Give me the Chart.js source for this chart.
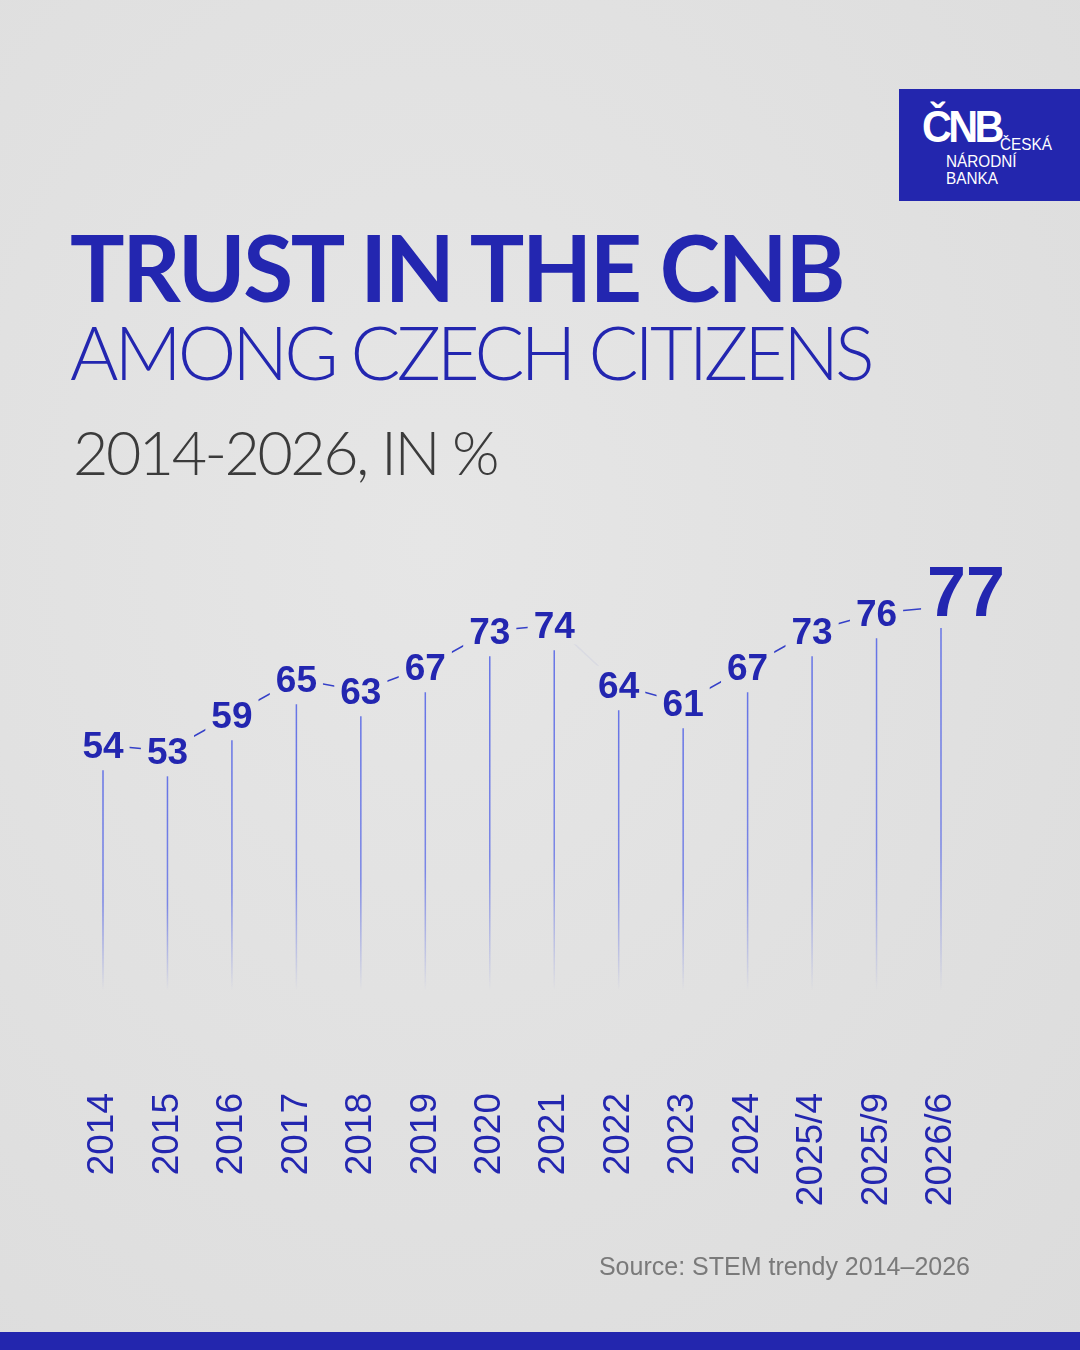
<!DOCTYPE html>
<html>
<head>
<meta charset="utf-8">
<script src="https://cdn.jsdelivr.net/npm/chart.js@4.4.1/dist/chart.umd.min.js"></script>
<style>
    html, body { margin: 0; padding: 0; }
    body {
        width: 1080px; height: 1350px; position: relative; overflow: hidden;
        background: radial-gradient(ellipse at 40% 40%, #e6e6e6 0%, #e0e0e0 60%, #dcdcdc 100%);
        font-family: Lato, "Open Sans", sans-serif;
    }
    #chart { position: absolute; left: 0; top: 0; }
    .title1 { position: absolute; left: 70px; top: 212px; font-weight: 700; font-size: 91px; color: #2326b0; letter-spacing: -2.3px; white-space: nowrap; }
    .title2 { position: absolute; left: 70px; top: 307px; font-weight: 300; font-size: 74px; color: #2326b0; letter-spacing: -4px; white-space: nowrap; }
    .subtitle { position: absolute; left: 73px; top: 415px; font-weight: 300; font-size: 61px; color: #3b3b3b; letter-spacing: -2.5px; white-space: nowrap; }
    .logo { position: absolute; left: 899px; top: 89px; width: 181px; height: 112px; background: #2326ae; color: #fff; }
    .logo .big { position: absolute; left: 23px; top: 15px; font-family: "Liberation Sans", sans-serif; font-weight: 700; font-size: 45px; letter-spacing: -4px; line-height: 1; transform: scaleX(0.92); transform-origin: left top; }
    .logo .small { position: absolute; font-family: "Liberation Sans", sans-serif; font-size: 17px; line-height: 1; transform: scaleX(0.9); transform-origin: left top; }
    .source { position: absolute; right: 110px; top: 1252px; font-family: "Liberation Sans", Arial, sans-serif; font-size: 25px; color: #7a7a7a; }
    .bar { position: absolute; left: 0; bottom: 0; width: 1080px; height: 18px; background: #2326ae; }
</style>
</head>
<body>
<canvas id="chart" width="1080" height="1350"></canvas>
<div class="logo">
    <div class="big">ČNB</div>
    <div class="small" style="left:101px; top:47px;">ČESKÁ</div>
    <div class="small" style="left:47px; top:64px;">NÁRODNÍ</div>
    <div class="small" style="left:47px; top:81px;">BANKA</div>
</div>
<div class="title1">TRUST IN THE CNB</div>
<div class="title2">AMONG CZECH CITIZENS</div>
<div class="subtitle">2014-2026, IN %</div>
<div class="source">Source: STEM trendy 2014–2026</div>
<div class="bar"></div>

<script>
// survey waves and share of people who trust the CNB
const categories = ['2014', '2015', '2016', '2017', '2018', '2019', '2020', '2021', '2022', '2023', '2024', '2025/4', '2025/9', '2026/6'];
const trust = [54, 53, 59, 65, 63, 67, 73, 74, 64, 61, 67, 73, 76, 77];

const BLUE = '#2326b0';
const LINE_BLUE = '#3540c8';
const STEM_END = 990;

// label box around each value, used for clipping the line and placing stems
function labelBox(ctx, i, pt) {
    const last = i === trust.length - 1;
    const size = last ? 70 : 37;
    ctx.save();
    ctx.font = `bold ${size}px "Liberation Sans", Arial, sans-serif`;
    const w = ctx.measureText(String(trust[i])).width;
    ctx.restore();
    const capH = size * 0.72;
    const cx = pt.x + (last ? 25 : 0);
    const baseline = last ? pt.y + 9 : pt.y + capH / 2;
    return { size, cx, baseline, left: cx - w / 2, right: cx + w / 2, top: baseline - capH, bottom: baseline };
}

const valueLabels = {
    id: 'valueLabels',
    beforeDatasetsDraw(chart) {
        // fading stems below each label
        const { ctx } = chart;
        const meta = chart.getDatasetMeta(0);
        meta.data.forEach((pt, i) => {
            const box = labelBox(ctx, i, pt);
            const y0 = box.bottom + 12;
            const g = ctx.createLinearGradient(0, y0, 0, STEM_END);
            g.addColorStop(0, 'rgba(95,110,230,0.95)');
            g.addColorStop(0.6, 'rgba(95,110,230,0.8)');
            g.addColorStop(1, 'rgba(95,110,230,0)');
            ctx.save();
            ctx.strokeStyle = g;
            ctx.lineWidth = 1.5;
            ctx.beginPath();
            ctx.moveTo(pt.x, y0);
            ctx.lineTo(pt.x, STEM_END);
            ctx.stroke();
            ctx.restore();
        });
    },
    beforeDatasetDraw(chart) {
        // keep the connecting line out of the label boxes
        const { ctx } = chart;
        const meta = chart.getDatasetMeta(0);
        ctx.save();
        ctx.beginPath();
        ctx.rect(0, 0, chart.width, chart.height);
        meta.data.forEach((pt, i) => {
            const b = labelBox(ctx, i, pt);
            ctx.rect(b.left - 6, b.top - 6, b.right - b.left + 12, b.bottom - b.top + 12);
        });
        ctx.clip('evenodd');
    },
    afterDatasetDraw(chart) {
        chart.ctx.restore();
    },
    afterDatasetsDraw(chart) {
        const { ctx } = chart;
        const meta = chart.getDatasetMeta(0);
        meta.data.forEach((pt, i) => {
            const b = labelBox(ctx, i, pt);
            ctx.save();
            ctx.font = `bold ${b.size}px "Liberation Sans", Arial, sans-serif`;
            ctx.fillStyle = BLUE;
            ctx.textAlign = 'center';
            ctx.textBaseline = 'alphabetic';
            ctx.fillText(String(trust[i]), b.cx, b.baseline);
            ctx.restore();
        });
    }
};

new Chart(document.getElementById('chart'), {
    type: 'line',
    data: {
        labels: categories,
        datasets: [{
            data: trust,
            borderColor: LINE_BLUE,
            borderWidth: 1.5,
            pointRadius: 0,
            tension: 0,
            segment: {
                borderColor: c => c.p0DataIndex === 7 ? 'rgba(53,64,200,0.06)' : LINE_BLUE
            }
        }]
    },
    options: {
        responsive: false,
        animation: false,
        layout: { padding: { left: 103, right: 139, top: 529, bottom: 0 } },
        plugins: { legend: { display: false }, tooltip: { enabled: false } },
        scales: {
            x: {
                grid: { display: false, drawTicks: false },
                border: { display: false },
                afterFit: scale => { scale.height = 281; },
                ticks: {
                    autoSkip: false,
                    minRotation: 90,
                    maxRotation: 90,
                    padding: 24,
                    color: BLUE,
                    font: { family: '"Liberation Sans", Arial, sans-serif', size: 37 }
                }
            },
            y: { display: false, min: 0, max: 90 }
        }
    },
    plugins: [valueLabels]
});
</script>
</body>
</html>
